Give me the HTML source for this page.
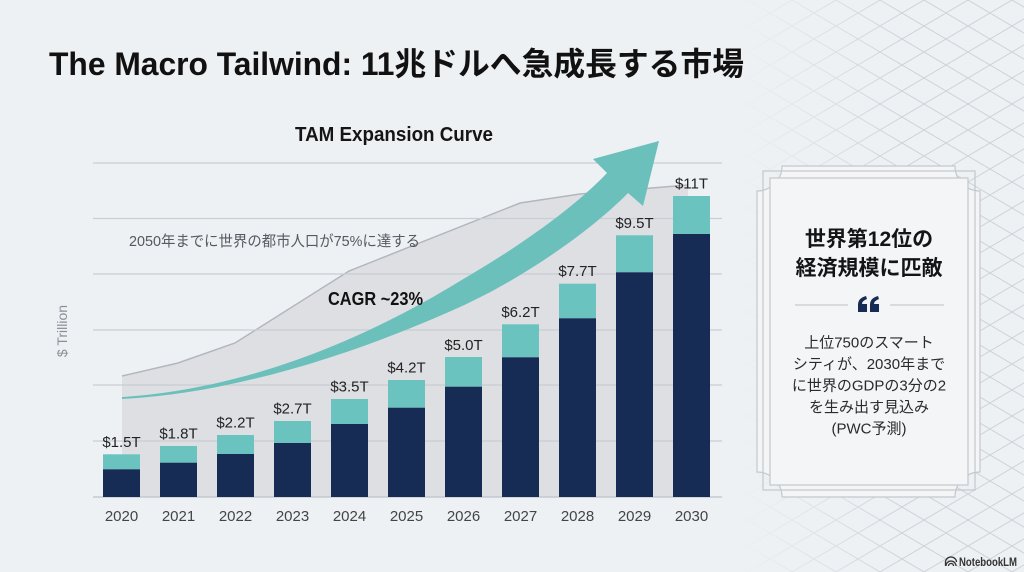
<!DOCTYPE html>
<html><head><meta charset="utf-8"><style>
html,body{margin:0;padding:0;background:#eef1f4;}
svg{display:block;}
text{font-family:"Liberation Sans","Noto Sans CJK JP",sans-serif;}
</style></head><body>
<svg width="1024" height="572" viewBox="0 0 1024 572" xmlns="http://www.w3.org/2000/svg">
<defs>
<pattern id="dia" width="44" height="26" patternUnits="userSpaceOnUse">
<path d="M0,0L44,26M0,26L44,0" stroke="#cfd3d8" stroke-width="1" fill="none"/>
</pattern>
<linearGradient id="fade" gradientUnits="userSpaceOnUse" x1="740" y1="0" x2="900" y2="0">
<stop offset="0" stop-color="#000"/><stop offset="1" stop-color="#fff"/>
</linearGradient>
<mask id="m"><rect width="1024" height="572" fill="url(#fade)"/></mask>
</defs>
<rect width="1024" height="572" fill="#eef1f4"/>
<rect width="1024" height="572" fill="url(#dia)" mask="url(#m)"/>

<!-- Title -->
<text x="49" y="75" font-size="32" font-weight="700" fill="#111" textLength="695" lengthAdjust="spacingAndGlyphs">The Macro Tailwind: 11兆ドルへ急成長する市場</text>

<!-- Chart title -->
<text x="295" y="141" font-size="20" font-weight="700" fill="#151515" textLength="198" lengthAdjust="spacingAndGlyphs">TAM Expansion Curve</text>

<!-- gray area -->
<path d="M122,497 L122,376 L178,363 L235,343 L349,271 L520,203 L580,194 L688,185 L688,497 Z" fill="#dddfe3"/>
<polyline points="122,376 178,363 235,343 349,271 520,203 580,194 688,185" fill="none" stroke="#b3b7bd" stroke-width="1.5"/>

<!-- grid -->
<g stroke="#c9ced3" stroke-width="1.2">
<line x1="93" y1="163" x2="722" y2="163"/>
<line x1="93" y1="218.5" x2="722" y2="218.5"/>
<line x1="93" y1="274" x2="722" y2="274"/>
<line x1="93" y1="330" x2="722" y2="330"/>
<line x1="93" y1="385" x2="722" y2="385"/>
<line x1="93" y1="441" x2="722" y2="441"/>
<line x1="93" y1="497" x2="722" y2="497" stroke="#bfc4c9"/>
</g>

<!-- note -->
<text x="129" y="246" font-size="15" fill="#555a60" textLength="291" lengthAdjust="spacingAndGlyphs">2050年までに世界の都市人口が75%に達する</text>

<!-- y axis label -->
<text transform="translate(67,331) rotate(-90)" text-anchor="middle" font-size="14" fill="#8a9097">$ Trillion</text>

<!-- arrow -->
<path d="M122,397 C260,388 380,330 460,281 C510,252 570,212 607,173 L593,159 L659,141 L643,206 L628,193 C590,232 520,280 460,307 C400,334 260,392 122,399 Z" fill="#6cc0bb"/>

<text x="328" y="305" font-size="18" font-weight="700" fill="#111" textLength="95" lengthAdjust="spacingAndGlyphs">CAGR ~23%</text>

<!-- bars -->
<g>
<rect x="103" y="454.3" width="37" height="15" fill="#6ac3be"/><rect x="103" y="469.3" width="37" height="27.7" fill="#172c55"/>
<rect x="160" y="446" width="37" height="16.7" fill="#6ac3be"/><rect x="160" y="462.7" width="37" height="34.3" fill="#172c55"/>
<rect x="217" y="435" width="37" height="19" fill="#6ac3be"/><rect x="217" y="454" width="37" height="43" fill="#172c55"/>
<rect x="274" y="421" width="37" height="22" fill="#6ac3be"/><rect x="274" y="443" width="37" height="54" fill="#172c55"/>
<rect x="331" y="399" width="37" height="25" fill="#6ac3be"/><rect x="331" y="424" width="37" height="73" fill="#172c55"/>
<rect x="388" y="380" width="37" height="27.7" fill="#6ac3be"/><rect x="388" y="407.7" width="37" height="89.3" fill="#172c55"/>
<rect x="445" y="357" width="37" height="29.7" fill="#6ac3be"/><rect x="445" y="386.7" width="37" height="110.3" fill="#172c55"/>
<rect x="502" y="324.3" width="37" height="33" fill="#6ac3be"/><rect x="502" y="357.3" width="37" height="139.7" fill="#172c55"/>
<rect x="559" y="283.7" width="37" height="34.6" fill="#6ac3be"/><rect x="559" y="318.3" width="37" height="178.7" fill="#172c55"/>
<rect x="616" y="235.3" width="37" height="37" fill="#6ac3be"/><rect x="616" y="272.3" width="37" height="224.7" fill="#172c55"/>
<rect x="673" y="196" width="37" height="38" fill="#6ac3be"/><rect x="673" y="234" width="37" height="263" fill="#172c55"/>
</g>

<!-- bar labels -->
<g font-size="15" fill="#222" text-anchor="middle">
<text x="121.5" y="447">$1.5T</text>
<text x="178.5" y="438.5">$1.8T</text>
<text x="235.5" y="427.5">$2.2T</text>
<text x="292.5" y="413.5">$2.7T</text>
<text x="349.5" y="391.5">$3.5T</text>
<text x="406.5" y="372.5">$4.2T</text>
<text x="463.5" y="350">$5.0T</text>
<text x="520.5" y="317">$6.2T</text>
<text x="577.5" y="276">$7.7T</text>
<text x="634.5" y="228">$9.5T</text>
<text x="691.5" y="188.5">$11T</text>
</g>

<!-- years -->
<g font-size="15" fill="#444" text-anchor="middle">
<text x="121.5" y="521">2020</text>
<text x="178.5" y="521">2021</text>
<text x="235.5" y="521">2022</text>
<text x="292.5" y="521">2023</text>
<text x="349.5" y="521">2024</text>
<text x="406.5" y="521">2025</text>
<text x="463.5" y="521">2026</text>
<text x="520.5" y="521">2027</text>
<text x="577.5" y="521">2028</text>
<text x="634.5" y="521">2029</text>
<text x="691.5" y="521">2030</text>
</g>

<!-- card -->
<path d="M782,166 L955,166 A25,25 0 0 0 980,191 L980,472 A25,25 0 0 0 955,497 L782,497 A25,25 0 0 0 757,472 L757,191 A25,25 0 0 0 782,166 Z" fill="#f3f5f7" stroke="#c4c8cc" stroke-width="1.2"/>
<rect x="763" y="171" width="212" height="319" fill="none" stroke="#c4c8cc" stroke-width="1.2"/>
<rect x="770" y="178" width="198" height="307" fill="#f3f5f7" stroke="#c4c8cc" stroke-width="1.2"/>

<g text-anchor="middle" fill="#151515" font-weight="700" font-size="21">
<text x="869" y="246">世界第12位の</text>
<text x="869" y="275">経済規模に匹敵</text>
</g>
<line x1="795" y1="305" x2="848" y2="305" stroke="#c8ccd0" stroke-width="1.2"/>
<line x1="890" y1="305" x2="944" y2="305" stroke="#c8ccd0" stroke-width="1.2"/>
<g fill="#172c55">
<path d="M858,312 L858,305 Q858,298 866,296 L867,299 Q862,301 862,304 L867,304 L867,312 Z"/>
<path d="M870,312 L870,305 Q870,298 878,296 L879,299 Q874,301 874,304 L879,304 L879,312 Z"/>
</g>
<g text-anchor="middle" fill="#2a2a2a" font-size="15">
<text x="869" y="347.5">上位750のスマート</text>
<text x="869" y="369">シティが、2030年まで</text>
<text x="869" y="390.5">に世界のGDPの3分の2</text>
<text x="869" y="412">を生み出す見込み</text>
<text x="869" y="433.5">(PWC予測)</text>
</g>

<!-- NotebookLM logo -->
<g fill="none" stroke="#333" stroke-width="1.3">
<path d="M946,566 A5,5 0 0 1 956,566"/>
<path d="M948.5,566 A2.5,2.5 0 0 1 953.5,566"/>
<path d="M945.5,566 L945.5,562 A5.5,5 0 0 1 956.5,562"/>
</g>
<text x="959" y="566" font-size="11.5" font-weight="700" fill="#333" textLength="58" lengthAdjust="spacingAndGlyphs">NotebookLM</text>
</svg>
</body></html>
